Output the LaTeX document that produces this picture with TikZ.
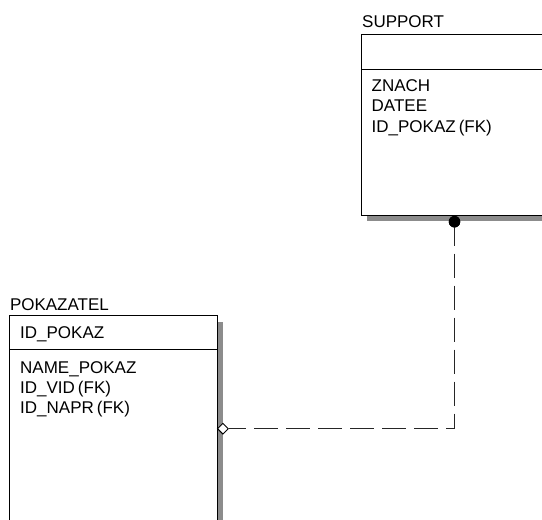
\documentclass[tikz,border=0pt]{standalone}
\usepackage{fontspec}
\setmainfont{Liberation Sans}
\usetikzlibrary{shapes.geometric}
\newcommand\erlblfont{\fontsize{17}{20}\selectfont\spaceskip=3pt plus 1pt\relax}
\begin{document}
\begin{tikzpicture}[x=1pt,y=-1pt,
  entitybox/.style={draw=black,line width=1pt,fill=white,rectangle,inner sep=0pt},
  shadowbar/.style={fill=black!45,draw=none},
  lbl/.style={inner sep=0pt,anchor=base west,font=\erlblfont,text=black},
  conn/.style={draw=black!85,line width=1.2pt,dash pattern=on 24pt off 8pt},
  fkdot/.style={circle,fill=black,inner sep=0pt,minimum size=11.5pt},
  fkdia/.style={diamond,draw=black,fill=white,line width=0.9pt,inner sep=0pt,minimum width=11pt,minimum height=11pt}]
\useasboundingbox (0,0) rectangle (542,520);
\clip (0,0) rectangle (542,520);
\fill[white] (0,0) rectangle (542,520);
% shadows
\fill[shadowbar] (367,215) rectangle (600,220.8);
\fill[shadowbar] (217.3,321.7) rectangle (222.8,600);
% SUPPORT entity
\node[entitybox,minimum width=238.3pt,minimum height=180.7pt] (support) at (480.85,124.65) {};
\draw[line width=1pt] (361.7,69) -- (600,69);
\node[lbl] (supporttitle) at (362,27.3) {SUPPORT};
\node[lbl] (s1) at (371.5,91) {ZNACH};
\node[lbl] (s2) at (371.5,111.5) {DATEE};
\node[lbl] (s3) at (371.5,132) {ID\_POKAZ (FK)};
% POKAZATEL entity
\node[entitybox,minimum width=208pt,minimum height=284.3pt] (pokaz) at (113.3,457.85) {};
\draw[line width=1pt] (9.3,349) -- (217.3,349);
\node[lbl] (pokaztitle) at (9.8,310) {POKAZATEL};
\node[lbl] (pk) at (20,338.5) {ID\_POKAZ};
\node[lbl] (p1) at (20,373) {NAME\_POKAZ};
\node[lbl] (p2) at (20,393.3) {ID\_VID (FK)};
\node[lbl] (p3) at (20,413.6) {ID\_NAPR (FK)};
% relationship
\node[fkdot] (dot) at (454.5,221.7) {};
\node[fkdia] (dia) at (222.9,428.7) {};
\draw[conn] (dot.center) |- (dia.east);
\node[fkdot] at (dot) {};
\end{tikzpicture}
\end{document}
